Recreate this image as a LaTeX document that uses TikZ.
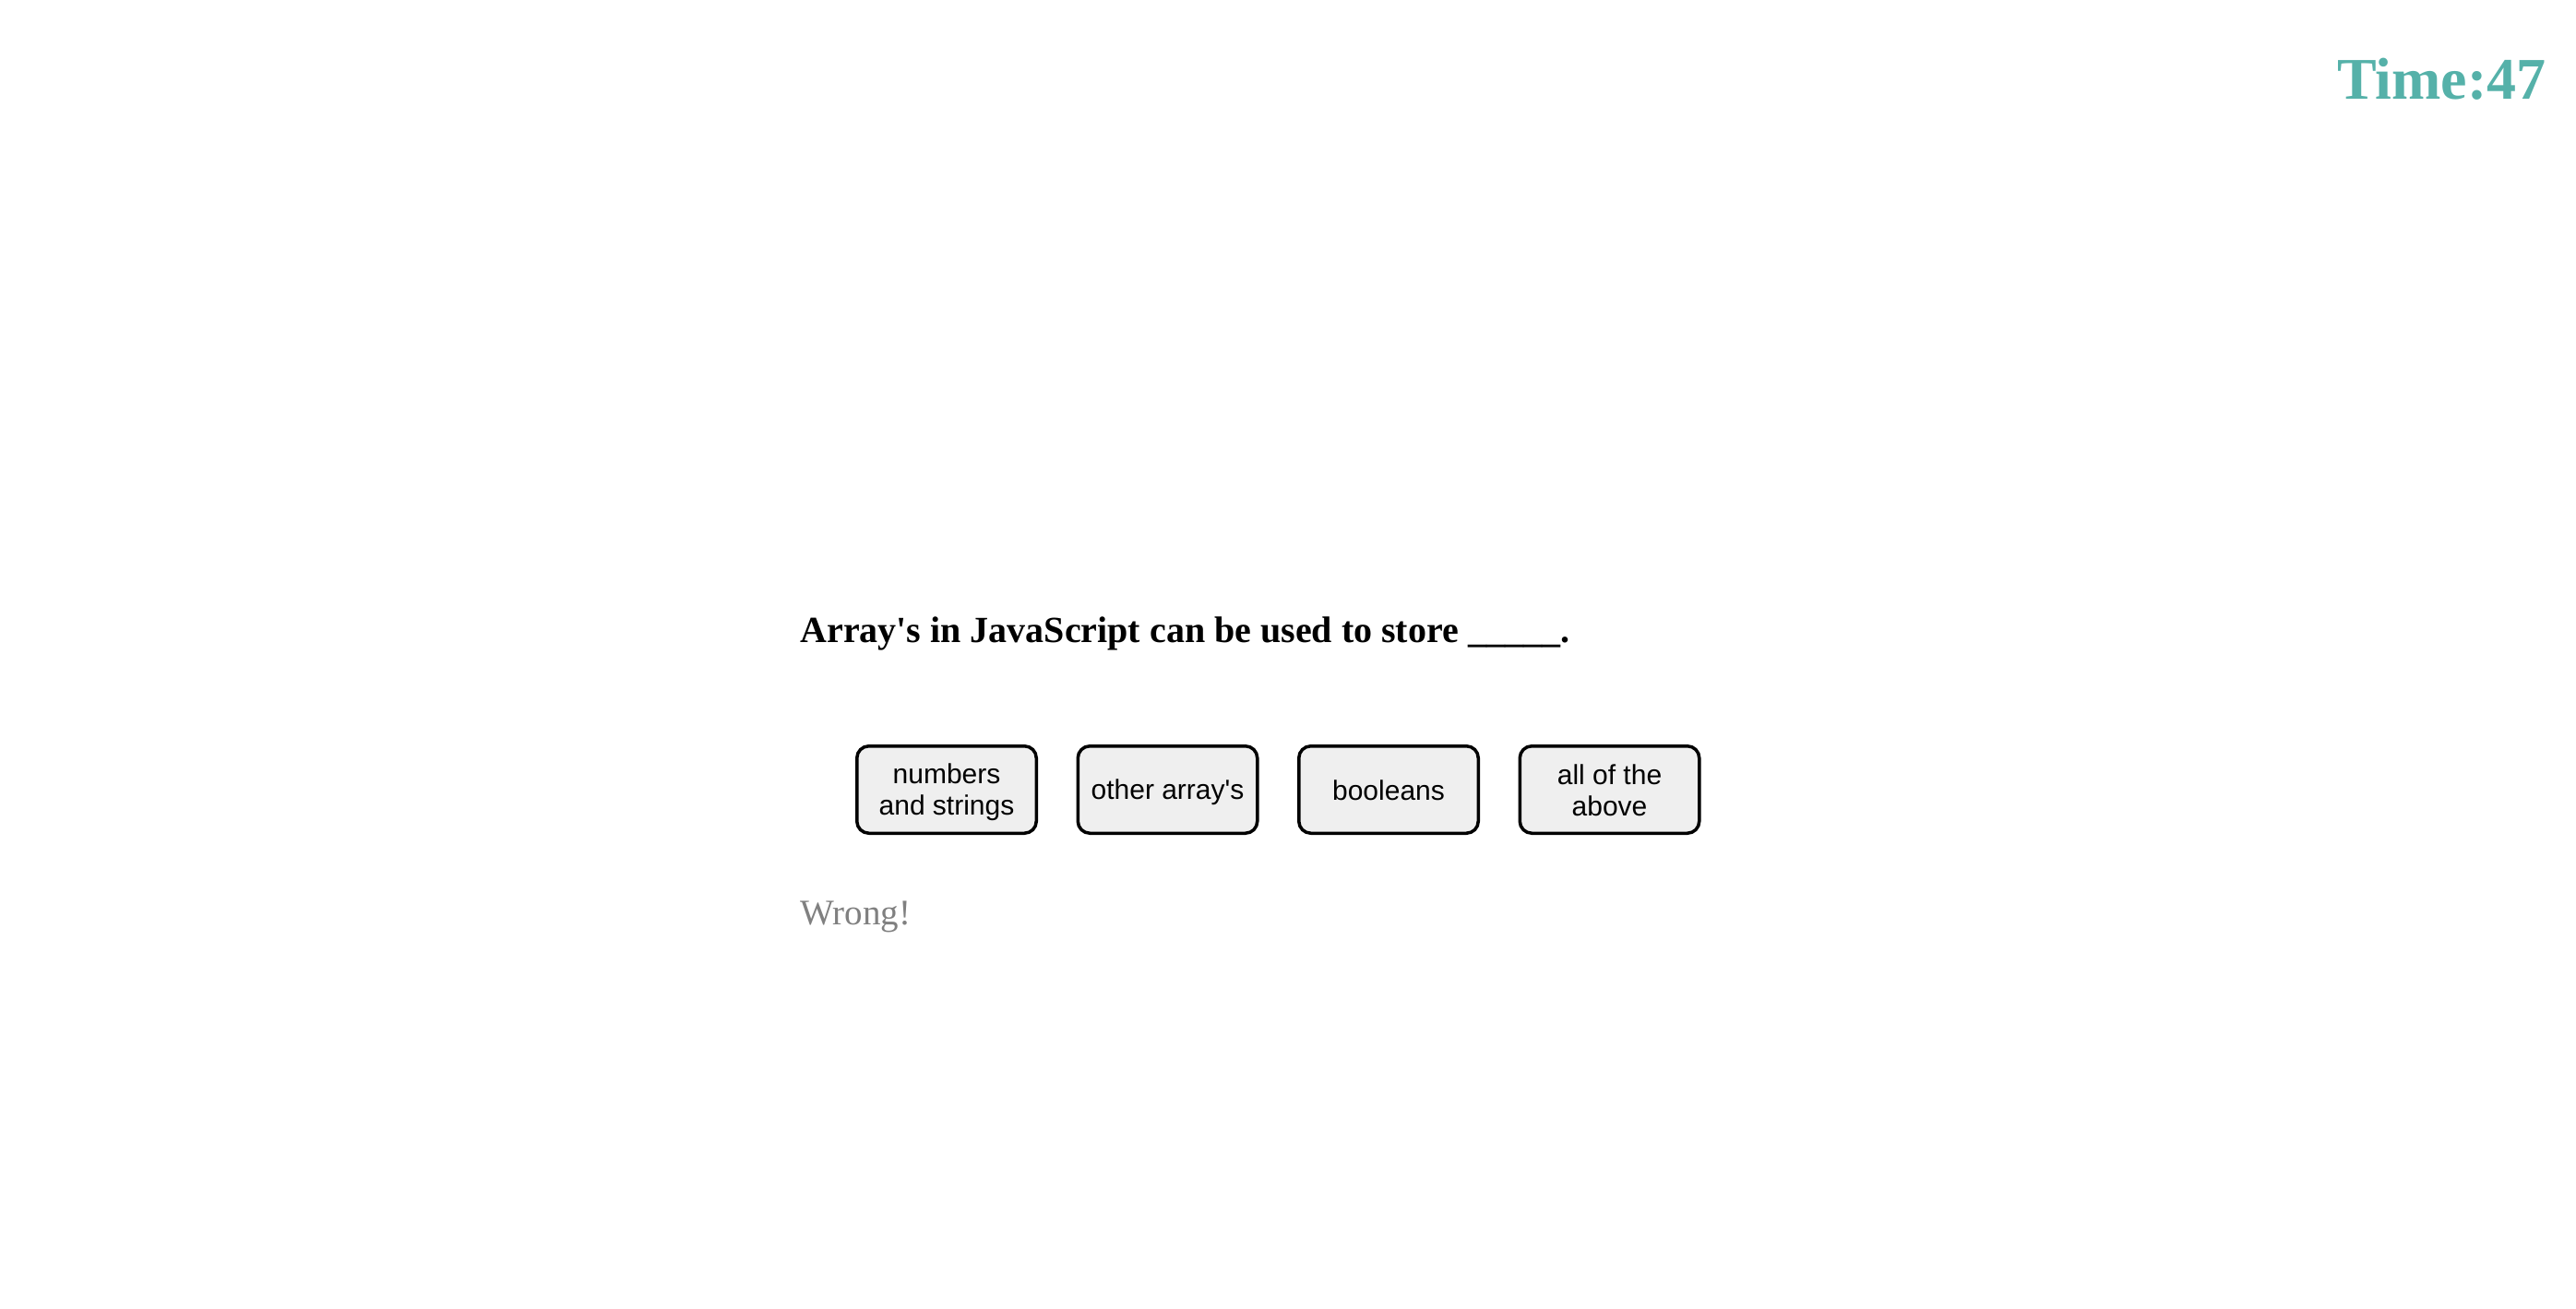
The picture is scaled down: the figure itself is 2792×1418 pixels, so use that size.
\documentclass[tikz,border=0pt]{standalone}
\usepackage{fontspec}
\setmainfont{Liberation Serif}
\newfontfamily\btnfont{Liberation Sans}
\usepackage{tikz}
\usetikzlibrary{positioning}
\definecolor{timeteal}{RGB}{85,177,169}
\definecolor{wronggray}{RGB}{128,128,128}
\definecolor{btnfill}{RGB}{239,239,239}
\newcommand{\btnstrut}{\rule[-2.2pt]{0pt}{15.7pt}}

\begin{document}
\begin{tikzpicture}[x=0.5pt,y=-0.5pt,
    answer/.style={draw, line width=1.75pt, rounded corners=6.5pt, fill=btnfill,
      minimum width=97.25pt, minimum height=47.25pt, align=center, inner sep=0pt,
      font=\btnfont\fontsize{15pt}{17pt}\selectfont},
    node distance=20.75pt]
     \useasboundingbox (0,0) rectangle (2792,1418);

      % timer
      \node[anchor=base east, text=timeteal, font=\bfseries\fontsize{32pt}{37pt}\selectfont, inner sep=0pt] (timer) at (2760,107) {Time:47};

      % question
      \node[anchor=base west, font=\bfseries\fontsize{20pt}{24pt}\selectfont, inner sep=0pt] (question) at (867,696) {Array\textquotesingle s in JavaScript can be used to store \_\_\_\_\_.};

      % answers
      \node[answer] (numbers) at (1026,856) {\btnstrut numbers\\\btnstrut and strings};
      \node[answer, right=of numbers] (arrays) {\btnstrut other array\textquotesingle s};
      \node[answer, right=of arrays] (booleans) {\btnstrut booleans};
      \node[answer, right=of booleans] (above) {\btnstrut all of the\\\btnstrut above};

      % feedback
      \node[anchor=base west, text=wronggray, font=\fontsize{19.5pt}{23pt}\selectfont, inner sep=0pt] (feedback) at (867,1002) {Wrong!};
        \end{tikzpicture}
\end{document}
